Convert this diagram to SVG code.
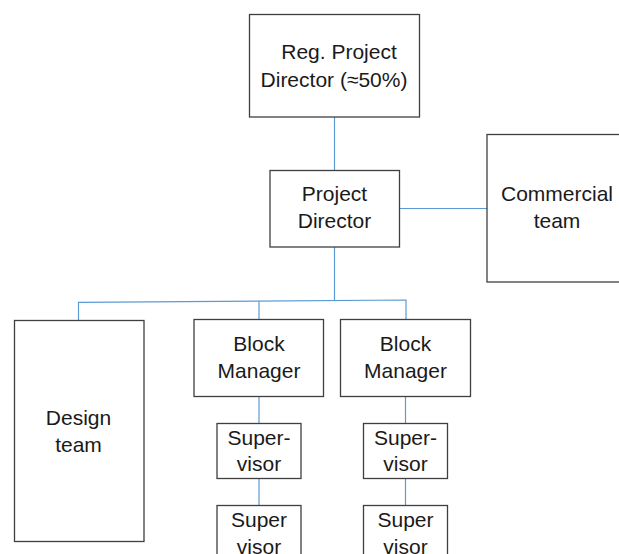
<svg xmlns="http://www.w3.org/2000/svg" width="619" height="554" viewBox="0 0 619 554">
  <style>
    .box { fill: #ffffff; stroke: #3f3f3f; stroke-width: 1.3; }
    .lbl { font-family: "Liberation Sans", Arial, sans-serif; font-size: 21px; fill: #1a1a1a; text-anchor: middle; }
    .conn { fill: none; stroke: #5b9bd5; stroke-width: 1.2; }
  </style>
  <rect width="619" height="554" fill="#ffffff"/>

  <!-- connectors -->
  <g id="connectors" class="conn">
    <line x1="334.5" y1="117" x2="334.5" y2="170"/>
    <line x1="399" y1="208.5" x2="487" y2="208.5"/>
    <line x1="334.5" y1="247" x2="334.5" y2="300"/>
    <polyline points="78.5,320 78.5,302.3 406,300 406,319.5"/>
    <line x1="259" y1="301.3" x2="259" y2="319.5"/>
    <line x1="259" y1="396.5" x2="259" y2="423.5"/>
    <line x1="259" y1="478.5" x2="259" y2="505.5"/>
    <line x1="405.5" y1="396.5" x2="405.5" y2="423.5"/>
    <line x1="405.5" y1="478.5" x2="405.5" y2="505.5"/>
  </g>

  <g id="reg-project-director">
    <rect class="box" x="249.5" y="14.5" width="170" height="102.5"/>
    <text class="lbl" x="339" y="59">Reg. Project</text>
    <text class="lbl" x="334" y="87">Director (≈50%)</text>
  </g>

  <g id="project-director">
    <rect class="box" x="270" y="170.5" width="129.5" height="76.5"/>
    <text class="lbl" x="334.5" y="201">Project</text>
    <text class="lbl" x="334.5" y="228">Director</text>
  </g>

  <g id="commercial-team">
    <rect class="box" x="487" y="134.5" width="140" height="147.5"/>
    <text class="lbl" x="557" y="201">Commercial</text>
    <text class="lbl" x="557" y="228">team</text>
  </g>

  <g id="design-team">
    <rect class="box" x="14.5" y="320.5" width="129.5" height="221"/>
    <text class="lbl" x="78.5" y="425">Design</text>
    <text class="lbl" x="78.5" y="452">team</text>
  </g>

  <g id="block-manager-1">
    <rect class="box" x="194" y="319.5" width="129.5" height="77"/>
    <text class="lbl" x="259" y="351">Block</text>
    <text class="lbl" x="259" y="378">Manager</text>
  </g>

  <g id="block-manager-2">
    <rect class="box" x="340.5" y="319.5" width="130" height="77"/>
    <text class="lbl" x="405.5" y="351">Block</text>
    <text class="lbl" x="405.5" y="378">Manager</text>
  </g>

  <g id="supervisor-1a">
    <rect class="box" x="217" y="423.5" width="84" height="55"/>
    <text class="lbl" x="259" y="444.5">Super-</text>
    <text class="lbl" x="259" y="471">visor</text>
  </g>

  <g id="supervisor-2a">
    <rect class="box" x="363.5" y="423.5" width="84" height="55"/>
    <text class="lbl" x="405.5" y="444.5">Super-</text>
    <text class="lbl" x="405.5" y="471">visor</text>
  </g>

  <g id="supervisor-1b">
    <rect class="box" x="217" y="505.5" width="84" height="60"/>
    <text class="lbl" x="259" y="527">Super</text>
    <text class="lbl" x="259" y="554">visor</text>
  </g>

  <g id="supervisor-2b">
    <rect class="box" x="363.5" y="505.5" width="84" height="60"/>
    <text class="lbl" x="405.5" y="527">Super</text>
    <text class="lbl" x="405.5" y="554">visor</text>
  </g>
</svg>
